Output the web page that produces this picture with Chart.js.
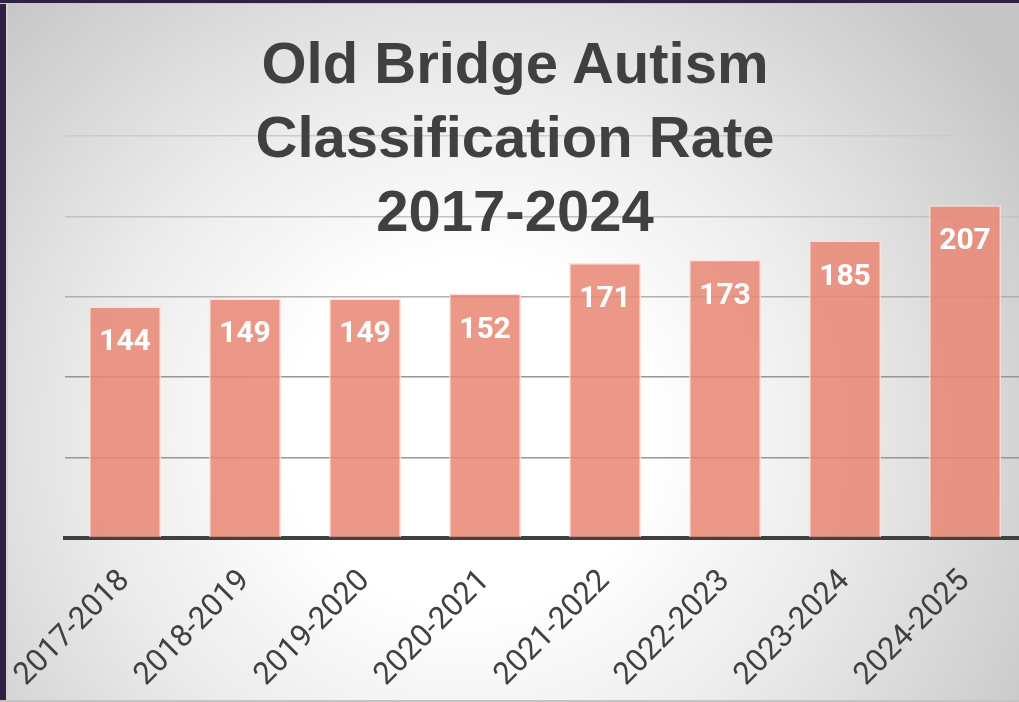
<!DOCTYPE html>
<html>
<head>
<meta charset="utf-8">
<title>Old Bridge Autism Classification Rate</title>
<script src="https://cdn.jsdelivr.net/npm/chart.js@4.4.1/dist/chart.umd.min.js"></script>
<style>
  body { margin: 0; overflow: hidden; background: #c8c8c8; }
  #slide {
    position: relative;
    width: 1019px;
    height: 702px;
    overflow: hidden;
    background: radial-gradient(ellipse 64% 88% at 46% 62%, #ffffff 0%, #ffffff 28%, #ebebeb 58%, #d6d6d6 82%, #c6c6c6 100%);
  }
  #edgeLeft { position: absolute; left: 0; top: 0; width: 6px; height: 702px; background: #2f2142; border-right: 2px solid #d4d4d4; }
  #edgeTop { position: absolute; left: 0; top: 0; width: 1019px; height: 3px; background: #2f2142; border-bottom: 1px solid #c8c8c8; }
  #edgeBottom { position: absolute; left: 0; top: 700px; width: 1019px; height: 2px; background: #c4c4c4; }
  #chartCanvas { position: absolute; left: 0; top: 0; }
  #title {
    position: absolute;
    left: 0;
    top: 26px;
    width: 1030px;
    text-align: center;
    font: bold 58px/74px "Liberation Sans", Arial, sans-serif;
    color: #404040;
    pointer-events: none;
  }
</style>
</head>
<body>
<div id="slide">
  <canvas id="chartCanvas" width="1030" height="702"></canvas>
  <div id="title">Old Bridge Autism<br>Classification Rate<br>2017-2024</div>
  <div id="edgeLeft"></div>
  <div id="edgeTop"></div>
  <div id="edgeBottom"></div>
</div>
<script>
// school years on the x axis
const years = ['2017-2018', '2018-2019', '2019-2020', '2020-2021', '2021-2022', '2022-2023', '2023-2024', '2024-2025'];
// students classified with autism
const students = [144, 149, 149, 152, 171, 173, 185, 207];
// y axis range (ticks hidden, only gridlines show)
const yMin = 0;
const yMax = 250;
const yStep = 50;

// gridlines get lighter toward the top
function gridColor(value) {
    if (value >= 250) return '#cbcbcb';
    if (value >= 200) return '#c2c2c2';
    if (value >= 150) return '#b0b0b0';
    return '#969696';
}

// white value labels inside the top of each bar
const barLabels = {
    id: 'barLabels',
    afterDatasetsDraw(chart) {
        const ctx = chart.ctx;
        const meta = chart.getDatasetMeta(0);
        ctx.save();
        ctx.font = 'bold 30px Roboto';
        ctx.fillStyle = '#ffffff';
        ctx.textAlign = 'center';
        ctx.textBaseline = 'alphabetic';
        meta.data.forEach(function (bar, i) {
            ctx.fillText(String(students[i]), bar.x, bar.y + 44);
        });
        ctx.restore();
    }
};

const ctx = document.getElementById('chartCanvas').getContext('2d');
const chart = new Chart(ctx, {
    type: 'bar',
    data: {
        labels: years,
        datasets: [{
            data: students,
            backgroundColor: 'rgba(232, 135, 117, 0.86)',
            borderColor: 'rgba(255, 222, 214, 0.85)',
            borderWidth: 1.5,
            barPercentage: 0.6,
            categoryPercentage: 1.0
        }]
    },
    options: {
        responsive: false,
        animation: false,
        layout: {
            padding: { left: 65, top: 136, right: 5, bottom: 0 }
        },
        plugins: {
            legend: { display: false },
            title: { display: false },
            tooltip: { enabled: false }
        },
        scales: {
            x: {
                grid: { display: false, drawTicks: false },
                border: { display: true, color: '#404040', width: 4 },
                ticks: {
                    color: '#404040',
                    font: { family: 'Roboto', size: 31 },
                    minRotation: 45,
                    maxRotation: 45,
                    padding: 25
                },
                afterFit: function (scale) {
                    scale.height = 164;
                    scale.paddingLeft = 0;
                    scale.paddingRight = 0;
                }
            },
            y: {
                min: yMin,
                max: yMax,
                ticks: { display: false, stepSize: yStep },
                border: { display: false },
                grid: {
                    drawTicks: false,
                    lineWidth: 1.5,
                    color: function (c) { return gridColor(c.tick.value); }
                },
                afterFit: function (scale) {
                    scale.width = 0;
                }
            }
        }
    },
    plugins: [barLabels]
});
</script>
</body>
</html>
